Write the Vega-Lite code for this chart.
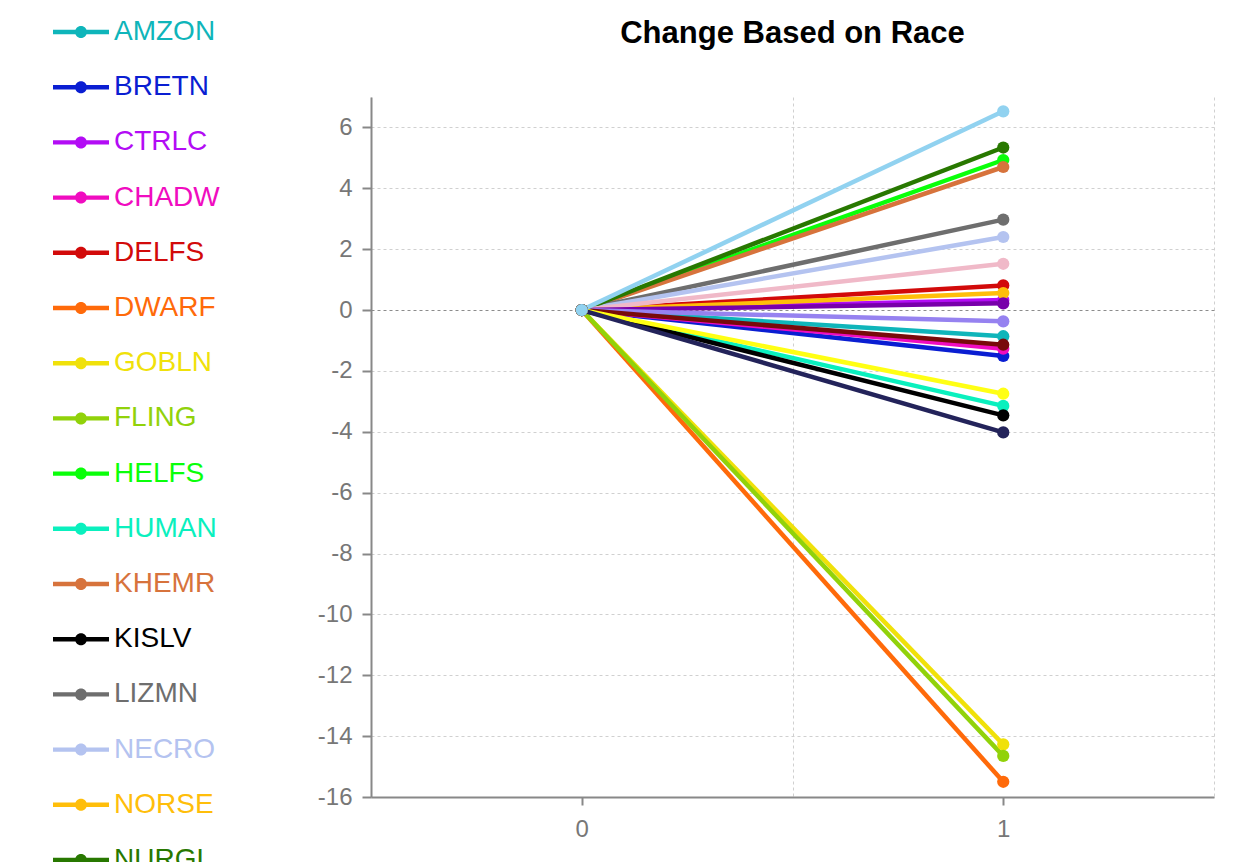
{
  "$schema": "https://vega.github.io/schema/vega-lite/v6.json",
  "width": 843,
  "height": 700,
  "autosize": {"type": "none"},
  "padding": {"left": 371, "top": 97, "right": 37, "bottom": 65},
  "background": "white",
  "title": {"text": "Change Based on Race", "fontSize": 31, "font": "Liberation Sans", "fontWeight": "bold", "color": "#000000", "anchor": "middle", "offset": 0, "baseline": "alphabetic", "dy": 56},
  "config": {"view": {"stroke": null}},
  "data": {"values": [
    {"race": "AMZON", "step": 0, "change": 0}, {"race": "AMZON", "step": 1, "change": -0.86},
    {"race": "BRETN", "step": 0, "change": 0}, {"race": "BRETN", "step": 1, "change": -1.51},
    {"race": "CTRLC", "step": 0, "change": 0}, {"race": "CTRLC", "step": 1, "change": 0.33},
    {"race": "CHADW", "step": 0, "change": 0}, {"race": "CHADW", "step": 1, "change": -1.27},
    {"race": "DELFS", "step": 0, "change": 0}, {"race": "DELFS", "step": 1, "change": 0.81},
    {"race": "DWARF", "step": 0, "change": 0}, {"race": "DWARF", "step": 1, "change": -15.5},
    {"race": "GOBLN", "step": 0, "change": 0}, {"race": "GOBLN", "step": 1, "change": -14.27},
    {"race": "FLING", "step": 0, "change": 0}, {"race": "FLING", "step": 1, "change": -14.65},
    {"race": "HELFS", "step": 0, "change": 0}, {"race": "HELFS", "step": 1, "change": 4.93},
    {"race": "HUMAN", "step": 0, "change": 0}, {"race": "HUMAN", "step": 1, "change": -3.15},
    {"race": "KHEMR", "step": 0, "change": 0}, {"race": "KHEMR", "step": 1, "change": 4.70},
    {"race": "KISLV", "step": 0, "change": 0}, {"race": "KISLV", "step": 1, "change": -3.46},
    {"race": "LIZMN", "step": 0, "change": 0}, {"race": "LIZMN", "step": 1, "change": 2.97},
    {"race": "NECRO", "step": 0, "change": 0}, {"race": "NECRO", "step": 1, "change": 2.40},
    {"race": "NORSE", "step": 0, "change": 0}, {"race": "NORSE", "step": 1, "change": 0.56},
    {"race": "NURGL", "step": 0, "change": 0}, {"race": "NURGL", "step": 1, "change": 5.34},
    {"race": "OGRES", "step": 0, "change": 0}, {"race": "OGRES", "step": 1, "change": 1.52},
    {"race": "ORCS", "step": 0, "change": 0}, {"race": "ORCS", "step": 1, "change": 0.22},
    {"race": "SKAVN", "step": 0, "change": 0}, {"race": "SKAVN", "step": 1, "change": -0.37},
    {"race": "UNDED", "step": 0, "change": 0}, {"race": "UNDED", "step": 1, "change": -1.14},
    {"race": "UNDWD", "step": 0, "change": 0}, {"race": "UNDWD", "step": 1, "change": -2.75},
    {"race": "VAMPS", "step": 0, "change": 0}, {"race": "VAMPS", "step": 1, "change": -4.02},
    {"race": "WELFS", "step": 0, "change": 0}, {"race": "WELFS", "step": 1, "change": 6.53}
  ]},
  "mark": {"type": "line", "strokeWidth": 4.5, "point": {"filled": true, "size": 150, "opacity": 1}},
  "encoding": {
    "x": {
      "field": "step", "type": "quantitative",
      "scale": {"domain": [-0.5, 1.5], "nice": false, "zero": false},
      "axis": {
        "title": null,
        "values": [-0.5, 0, 0.5, 1, 1.5],
        "labelExpr": "datum.value % 1 == 0 ? '' + datum.value : ''",
        "labelFont": "Liberation Sans", "labelFontSize": 24, "labelColor": "#777777", "labelPadding": 12,
        "domainColor": "#888888", "domainWidth": 2,
        "tickColor": "#888888", "tickWidth": 2, "tickSize": 8,
        "tickOpacity": {"condition": {"test": "datum.value % 1 != 0", "value": 0}, "value": 1},
        "grid": true, "gridColor": "#d0d0d0", "gridDash": [3, 3], "gridWidth": 1,
        "gridOpacity": {"condition": {"test": "datum.value % 1 == 0", "value": 0}, "value": 1}
      }
    },
    "y": {
      "field": "change", "type": "quantitative",
      "scale": {"domain": [-16, 7], "nice": false, "zero": false},
      "axis": {
        "title": null,
        "values": [-16, -14, -12, -10, -8, -6, -4, -2, 0, 2, 4, 6],
        "labelExpr": "'' + datum.value",
        "labelFont": "Liberation Sans", "labelFontSize": 24, "labelColor": "#777777", "labelPadding": 10,
        "domainColor": "#888888", "domainWidth": 2,
        "tickColor": "#888888", "tickWidth": 2, "tickSize": 9,
        "grid": true, "gridDash": [3, 3], "gridWidth": 1,
        "gridColor": {"condition": {"test": "datum.value == 0", "value": "#8c8c8c"}, "value": "#d0d0d0"}
      }
    },
    "color": {
      "field": "race", "type": "nominal",
      "scale": {
        "domain": ["AMZON", "BRETN", "CTRLC", "CHADW", "DELFS", "DWARF", "GOBLN", "FLING", "HELFS", "HUMAN", "KHEMR", "KISLV", "LIZMN", "NECRO", "NORSE", "NURGL", "OGRES", "ORCS", "SKAVN", "UNDED", "UNDWD", "VAMPS", "WELFS"],
        "range": ["#0fb5ba", "#0a1ed2", "#b30cf5", "#f00cc0", "#d20a0a", "#ff6a0a", "#f0e10a", "#91d20a", "#0aff0a", "#0af0be", "#d7733c", "#000000", "#6e6e6e", "#b4c3f0", "#ffbe0a", "#287800", "#f0b9c8", "#7800aa", "#9682f0", "#780a0a", "#ffff14", "#23235a", "#91d2f0"]
      },
      "legend": {
        "title": null,
        "orient": "none",
        "legendX": -304,
        "legendY": -79,
        "padding": 0,
        "symbolType": "M-2.8,-0.22L2.8,-0.22L2.8,0.22L-2.8,0.22Z M0.6,0A0.6,0.6,0,1,1,-0.6,0A0.6,0.6,0,1,1,0.6,0Z",
        "symbolSize": 400,
        "symbolStrokeWidth": 0,
        "labelFont": "Liberation Sans",
        "labelFontSize": 28,
        "labelOffset": 19,
        "rowPadding": 27.2,
        "labelLimit": 300,
        "encode": {
          "labels": {"update": {"fill": {"scale": "color", "field": "value"}}},
          "symbols": {"update": {"fill": {"scale": "color", "field": "value"}, "stroke": {"value": "transparent"}, "strokeWidth": {"value": 0}, "opacity": {"value": 1}}}
        }
      }
    }
  }
}
